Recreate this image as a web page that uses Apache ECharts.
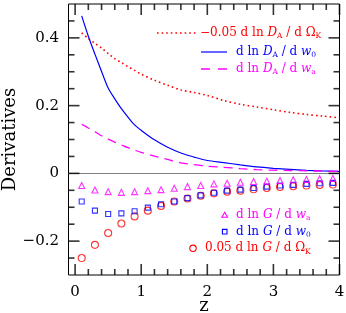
<!DOCTYPE html>
<html><head><meta charset="utf-8">
<script src="https://cdn.jsdelivr.net/npm/echarts@6/dist/echarts.min.js"></script>
<style>html,body{margin:0;padding:0;background:#fff}#c{width:346px;height:313px}</style>
</head><body><div id="c"></div>
<script>
// ---- data ----
const zLine = [0.1,0.2,0.3,0.4,0.5,0.6,0.7,0.8,0.9,1.0,1.2,1.4,1.6,1.8,2.0,2.25,2.5,2.75,3.0,3.25,3.5,3.75,4.0];
const dlnDA_dOk = [0.415,0.398,0.384,0.370,0.354,0.339,0.327,0.315,0.304,0.293,0.275,0.260,0.246,0.239,0.230,0.215,0.204,0.196,0.188,0.180,0.174,0.169,0.164];
const dlnDA_dw0 = [0.465,0.405,0.352,0.301,0.252,0.220,0.191,0.166,0.143,0.127,0.099,0.077,0.060,0.048,0.038,0.032,0.025,0.019,0.015,0.012,0.009,0.007,0.006];
const dlnDA_dwa = [0.145,0.134,0.123,0.111,0.101,0.092,0.084,0.076,0.069,0.062,0.051,0.041,0.031,0.026,0.021,0.018,0.014,0.011,0.0095,0.0085,0.0075,0.0065,0.006];

const zPts = [0.1,0.3,0.5,0.7,0.9,1.1,1.3,1.5,1.7,1.9,2.1,2.3,2.5,2.7,2.9,3.1,3.3,3.5,3.7,3.9];
const dlnG_dwa = [-0.036,-0.049,-0.054,-0.056,-0.054,-0.051,-0.048,-0.044,-0.039,-0.036,-0.031,-0.029,-0.026,-0.024,-0.023,-0.021,-0.019,-0.018,-0.016,-0.015];
const dlnG_dw0 = [-0.083,-0.110,-0.120,-0.118,-0.112,-0.101,-0.091,-0.083,-0.073,-0.065,-0.057,-0.051,-0.048,-0.043,-0.039,-0.036,-0.034,-0.031,-0.029,-0.028];
const dlnG_dOk = [-0.250,-0.211,-0.176,-0.148,-0.127,-0.110,-0.096,-0.083,-0.074,-0.066,-0.059,-0.054,-0.051,-0.047,-0.043,-0.040,-0.038,-0.036,-0.034,-0.033];

// tick values
const xMajorTicks = [0, 1, 2, 3, 4];
const xMinorTicks = [0.2,0.4,0.6,0.8,1.2,1.4,1.6,1.8,2.2,2.4,2.6,2.8,3.2,3.4,3.6,3.8];
const yMajorTicks = [-0.2, 0, 0.2, 0.4];
const yMinorTicks = [-0.25,-0.15,-0.1,-0.05,0.05,0.1,0.15,0.25,0.3,0.35,0.45];

// axis ranges (label axes start on a tick multiple)
const xRange = [-0.1, 4];
const yRange = [-0.3, 0.5];
const xTickRange = [0, 4];
const yTickRange = [-0.2, 0.4];
const xMajorStep = 1, yMajorStep = 0.2;

// ---- chart ----
const SERIF = 'DejaVu Serif';
const RED = '#ff0000', BLUE = '#0000ff', MAG = '#ff00ff';
const fmt = v => String(Math.round(v*100)/100).replace('-', '\u2212');
const pair = (xs, ys) => xs.map((x, i) => [x, ys[i]]);

// main plot rectangle
const G = {left: 68.5, right: 6.5, top: 4, bottom: 38};
const W = 346 - G.left - G.right, H = 313 - G.top - G.bottom;
// helper grids for the tick labels (same pixel scale as the main grid)
const gridX = {left: G.left + W * (xTickRange[0] - xRange[0]) / (xRange[1] - xRange[0]),
               right: G.right + W * (xRange[1] - xTickRange[1]) / (xRange[1] - xRange[0]),
               top: G.top, bottom: G.bottom, outerBoundsMode: 'none'};
const gridY = {left: G.left, right: G.right,
               top: G.top + H * (yRange[1] - yTickRange[1]) / (yRange[1] - yRange[0]),
               bottom: G.bottom + H * (yTickRange[0] - yRange[0]) / (yRange[1] - yRange[0]),
               outerBoundsMode: 'none'};

function labelAxis(gi, pos, range, step) {
  return {type: 'value', gridIndex: gi, position: pos, min: range[0], max: range[1], interval: step,
    axisLine: {show: false, onZero: false}, axisTick: {show: false},
    axisLabel: {show: true, margin: 9.5, fontFamily: SERIF, fontSize: 15, color: '#000', formatter: fmt},
    splitLine: {show: false}};
}
const hidden = (gi) => ({type: 'value', gridIndex: gi, show: false, min: 0, max: 1, splitLine: {show: false}});

// inward tick marks drawn through the main axes' scales
function tickSeries(vals, dir, edge, size, offset) {
  return {type: 'scatter', xAxisIndex: 0, yAxisIndex: 0, silent: true, clip: false, z: 5,
    symbol: 'rect', symbolSize: size, symbolOffset: offset, itemStyle: {color: '#000'},
    emphasis: {disabled: true},
    data: vals.map(v => dir === 'x' ? [v, edge] : [edge, v])};
}
const TW = 1.6;

function rich(color) {
  return {
    n: {fontFamily: SERIF, fontSize: 12, fill: color, color: color},
    i: {fontFamily: SERIF, fontSize: 12, fontStyle: 'italic', fill: color, color: color},
    s: {fontFamily: SERIF, fontSize: 7.5, fill: color, color: color, padding: [7, 0, 0, 0]}
  };
}
function legText(x, y, align, color, text) {
  return {type: 'text', z: 100, style: {x: x, y: y, text: text, align: align, textAlign: align,
    verticalAlign: 'middle', textVerticalAlign: 'middle', rich: rich(color), fill: color,
    fontFamily: SERIF, fontSize: 12}};
}

const option = {
  animation: false,
  grid: [
    Object.assign({show: true, borderColor: '#000', borderWidth: 1, backgroundColor: 'transparent', outerBoundsMode: 'none'}, G),
    gridX, gridY
  ],
  xAxis: [
    {type: 'value', gridIndex: 0, min: xRange[0], max: xRange[1], position: 'bottom',
     axisLine: {show: false, onZero: false}, axisTick: {show: false}, axisLabel: {show: false}, splitLine: {show: false},
     name: 'z', nameLocation: 'middle', nameGap: 22, nameTextStyle: {fontFamily: SERIF, fontSize: 18, color: '#000'}},
    labelAxis(1, 'bottom', xTickRange, xMajorStep),
    hidden(2)
  ],
  yAxis: [
    {type: 'value', gridIndex: 0, min: yRange[0], max: yRange[1], position: 'left',
     axisLine: {show: false, onZero: false}, axisTick: {show: false}, axisLabel: {show: false}, splitLine: {show: false},
     name: 'Derivatives', nameLocation: 'middle', nameGap: 49, nameTextStyle: {fontFamily: SERIF, fontSize: 18, color: '#000'}},
    hidden(1),
    labelAxis(2, 'left', yTickRange, yMajorStep)
  ],
  series: [
    {type: 'line', xAxisIndex: 0, yAxisIndex: 0, data: pair(zLine, dlnDA_dOk), smooth: 0.3, showSymbol: false, silent: true,
     lineStyle: {color: RED, width: 1.6, type: [1.6, 3]},
     markLine: {silent: true, symbol: 'none', label: {show: false},
       lineStyle: {color: '#808080', width: 1, type: 'solid'}, data: [{yAxis: 0}]}},
    {type: 'line', xAxisIndex: 0, yAxisIndex: 0, data: pair(zLine, dlnDA_dw0), smooth: 0.3, showSymbol: false, silent: true,
     lineStyle: {color: BLUE, width: 1.2, type: 'solid'}},
    {type: 'line', xAxisIndex: 0, yAxisIndex: 0, data: pair(zLine, dlnDA_dwa), smooth: 0.3, showSymbol: false, silent: true,
     lineStyle: {color: MAG, width: 1.3, type: [9, 6]}},
    {type: 'scatter', xAxisIndex: 0, yAxisIndex: 0, data: pair(zPts, dlnG_dOk), symbol: 'circle', symbolSize: 7, silent: true,
     itemStyle: {color: 'rgba(0,0,0,0)', borderColor: RED, borderWidth: 1.1}},
    {type: 'scatter', xAxisIndex: 0, yAxisIndex: 0, data: pair(zPts, dlnG_dw0), symbol: 'rect', symbolSize: 5, silent: true,
     itemStyle: {color: 'rgba(0,0,0,0)', borderColor: BLUE, borderWidth: 1.1}},
    {type: 'scatter', xAxisIndex: 0, yAxisIndex: 0, data: pair(zPts, dlnG_dwa), symbol: 'triangle', symbolSize: 6, silent: true,
     itemStyle: {color: 'rgba(0,0,0,0)', borderColor: MAG, borderWidth: 1.1}},
    tickSeries(xMajorTicks, 'x', yRange[0], [TW, 11], [0, -5.5]),
    tickSeries(xMinorTicks, 'x', yRange[0], [TW, 6], [0, -3]),
    tickSeries(xMajorTicks, 'x', yRange[1], [TW, 11], [0, 5.5]),
    tickSeries(xMinorTicks, 'x', yRange[1], [TW, 6], [0, 3]),
    tickSeries(yMajorTicks, 'y', xRange[0], [11, TW], [5.5, 0]),
    tickSeries(yMinorTicks, 'y', xRange[0], [6, TW], [3, 0]),
    tickSeries(yMajorTicks, 'y', xRange[1], [11, TW], [-5.5, 0]),
    tickSeries(yMinorTicks, 'y', xRange[1], [6, TW], [-3, 0])
  ],
  graphic: [
    {type: 'line', z: 100, shape: {x1: 157, y1: 33, x2: 196, y2: 33}, style: {stroke: RED, lineWidth: 1.6, lineDash: [1.6, 3]}},
    legText(200, 33, 'left', RED, '{n|\u22120.05 d ln }{i|D}{s|A}{n| / d \u03A9}{s|K}'),
    {type: 'line', z: 100, shape: {x1: 201, y1: 52, x2: 227, y2: 52}, style: {stroke: BLUE, lineWidth: 1.2}},
    legText(236, 52, 'left', BLUE, '{n|d ln }{i|D}{s|A}{n| / d }{i|w}{s|0}'),
    {type: 'line', z: 100, shape: {x1: 201, y1: 69, x2: 227, y2: 69}, style: {stroke: MAG, lineWidth: 1.3, lineDash: [9, 8]}},
    legText(236, 69, 'left', MAG, '{n|d ln }{i|D}{s|A}{n| / d }{i|w}{s|a}'),

    {type: 'polygon', z: 100, shape: {points: [[224.7, 212.3], [227.5, 217.3], [221.9, 217.3]]}, style: {fill: 'none', stroke: MAG, lineWidth: 1.1}},
    legText(236, 215, 'left', MAG, '{n|d ln }{i|G}{n| / d }{i|w}{s|a}'),
    {type: 'rect', z: 100, shape: {x: 222.4, y: 229.4, width: 4.6, height: 4.6}, style: {fill: 'none', stroke: BLUE, lineWidth: 1.1}},
    legText(236, 231.7, 'left', BLUE, '{n|d ln }{i|G}{n| / d }{i|w}{s|0}'),
    {type: 'circle', z: 100, shape: {cx: 193, cy: 248.3, r: 3.2}, style: {fill: 'none', stroke: RED, lineWidth: 1.1}},
    legText(205, 248.3, 'left', RED, '{n|0.05 d ln }{i|G}{n| / d \u03A9}{s|K}')
  ]
};
const chart = echarts.init(document.getElementById('c'), null, {renderer: 'canvas'});
chart.setOption(option);
</script></body></html>
